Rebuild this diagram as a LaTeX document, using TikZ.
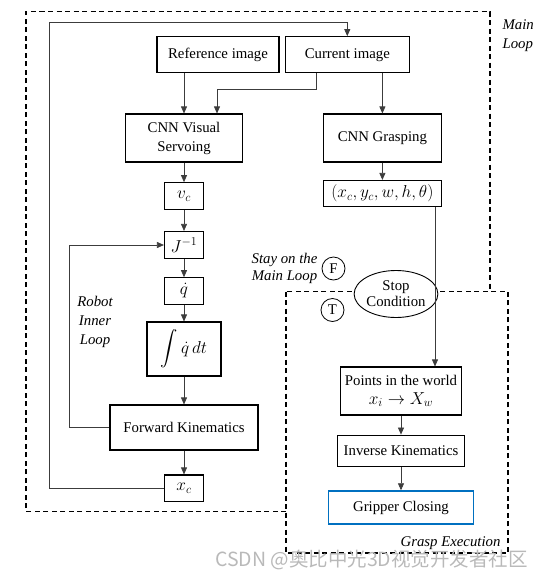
\documentclass[tikz,border=0pt]{standalone}
\usepackage{fontspec}
\setmainfont{Liberation Serif}
\newfontfamily\cjkfont{Noto Sans CJK SC}
\usepackage{amsmath}
\usepackage{tikz}
\usetikzlibrary{arrows.meta,shapes,positioning}
\usepackage{xcolor}
\definecolor{gripblue}{RGB}{0,112,192}
\definecolor{wiregray}{RGB}{60,60,60}
\newcommand{\figfont}{\fontsize{14.8}{19}\selectfont}
\newcommand{\mathfont}{\fontsize{16.5}{19}\selectfont}
\tikzstyle{block} = [draw, line width=1.1pt, rectangle, align=center, inner sep=0pt]
\tikzstyle{mathblock} = [block, font=\mathfont]
\tikzstyle{arrow} = [line width=0.7pt, color=wiregray, -{Triangle[length=7pt,width=6pt]}]
\tikzstyle{loopline} = [line width=1.2pt, dash pattern=on 5pt off 3.5pt]
\tikzstyle{tag} = [draw, circle, line width=0.8pt, minimum size=23pt, inner sep=0pt]
\tikzstyle{looplabel} = [font=\figfont\itshape, align=center]

\begin{document}
\begin{tikzpicture}[x=1pt, y=-1pt, font=\figfont]
\useasboundingbox (0,0) rectangle (546,579);

% Dashed loop frames
\draw[loopline] (286,511.7) -- (26,511.7) -- (26,11.7) -- (490,11.7) -- (490,289);
\draw[loopline] (286,291.7) rectangle (508,553);

% Image inputs
\node[block, minimum width=122, minimum height=36] (ref) at (218,54.7) {Reference image};
\node[block, minimum width=123.5, minimum height=36] (cur) at (347.3,54.7) {Current image};

% Visual servoing branch
\node[block, minimum width=117, minimum height=48] (cnnvs) at (184,138) {CNN Visual\\Servoing};
\node[mathblock, minimum width=39, minimum height=26.6] (vc) at (184,196) {$v_c$};
\node[mathblock, minimum width=39, minimum height=27] (jinv) at (184,245) {$J^{-1}$};
\node[mathblock, minimum width=39, minimum height=26.5] (qdot) at (184,291) {$\dot{q}$};
\node[mathblock, minimum width=74, minimum height=54] (integ) at (184,349) {$\displaystyle\int \dot{q}\,dt$};
\node[block, minimum width=148, minimum height=45] (fk) at (184,427.5) {Forward Kinematics};
\node[mathblock, minimum width=39, minimum height=26.7] (xc) at (184,488.3) {$x_c$};

% Grasping branch
\node[block, minimum width=118.7, minimum height=48] (cnngr) at (382.4,138) {CNN Grasping};
\node[mathblock, minimum width=118.7, minimum height=26] (pose) at (382.4,193.5) {$(x_c, y_c, w, h, \theta)$};
\node[draw, ellipse, line width=0.9pt, fill=white, minimum width=74, minimum height=47,
      inner sep=0pt, align=center] (stop) at (396,294) {Stop\\[-3pt]Condition};
\node[block, minimum width=121, minimum height=48] (pts) at (401,391) {Points in the world\\{\mathfont$x_i \rightarrow X_w$}};
\node[block, minimum width=127.5, minimum height=31.7] (ik) at (401,451) {Inverse Kinematics};
\node[block, draw=gripblue, line width=1.4pt, minimum width=145.5, minimum height=33] (grip) at (401,507.5) {Gripper Closing};

% Tags and loop names
\node[tag] (ftag) at (333.5,268.5) {F};
\node[tag] (ttag) at (332.5,310) {T};
\node[looplabel] (stay) at (284.5,268) {Stay on the\\[-2pt]Main Loop};
\node[looplabel] (inner) at (95,321.7) {Robot\\Inner\\Loop};
\node[looplabel, align=left, anchor=west] (mainname) at (499,36) {Main\\Loop};
\node[looplabel, anchor=east] (graspname) at (504,543.3) {Grasp Execution};

% Connections
\coordinate (topleft) at (49.5,22.7);
\draw[arrow] (xc.west) -| (topleft) -| (cur.north);
\draw[arrow] (cnnvs.north |- ref.south) -- (cnnvs.north);
\draw[arrow] ([xshift=-31pt]cur.south) -- ++(0,15.6) -| ([xshift=33pt]cnnvs.north);
\draw[arrow] (cnngr.north |- cur.south) -- (cnngr.north);
\draw[arrow] (cnnvs.south) -- (vc.north);
\draw[arrow] (vc.south) -- (jinv.north);
\draw[arrow] (jinv.south) -- (qdot.north);
\draw[arrow] (qdot.south) -- (integ.north);
\draw[arrow] (integ.south) -- (fk.north);
\draw[arrow] (fk.south) -- (xc.north);
\draw[arrow] (fk.west) -- ++(-40,0) |- (jinv.west);
\draw[arrow] (cnngr.south) -- (pose.north);
\draw[arrow] ([xshift=52.6pt]pose.south) coordinate (drop) -- (drop |- pts.north);
\draw[arrow] (pts.south) -- (ik.north);
\draw[arrow] (ik.south) -- (grip.north);

% Watermark
\node[text=gray!55, font=\fontsize{19.5}{20}\selectfont\cjkfont] (mark) at (371.5,560) {CSDN @奥比中光3D视觉开发者社区};
\end{tikzpicture}
\end{document}
